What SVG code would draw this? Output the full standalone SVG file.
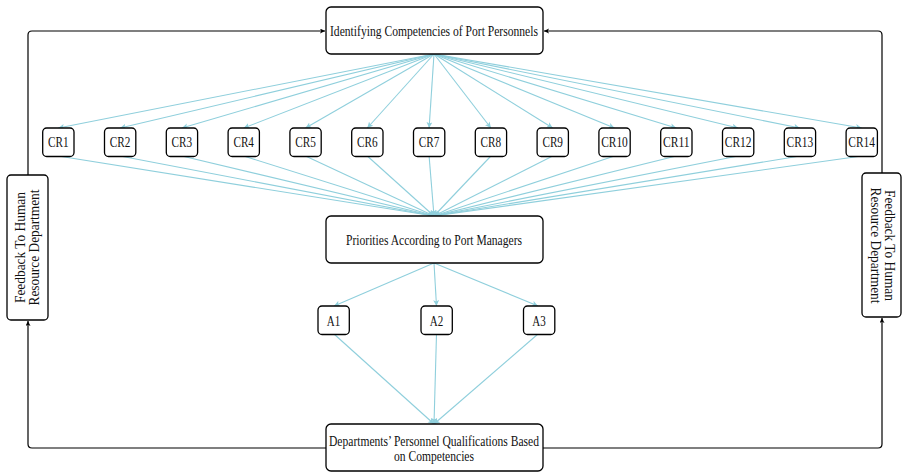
<svg xmlns="http://www.w3.org/2000/svg" width="902" height="473" viewBox="0 0 902 473">
<defs>
<marker id="ab" markerUnits="userSpaceOnUse" markerWidth="8" markerHeight="8" refX="6" refY="3" orient="auto">
<path d="M0,0 L6,3 L0,6 L1.5,3 z" fill="#8fcfdc"/>
</marker>
<marker id="ak" markerUnits="userSpaceOnUse" markerWidth="8" markerHeight="8" refX="5" refY="2.5" orient="auto">
<path d="M0,0 L5,2.5 L0,5 L1.2,2.5 z" fill="#000"/>
</marker>
<style>
.box{fill:#fff;stroke:#000;stroke-width:1.3}
.t{font-family:"Liberation Serif","Times New Roman",serif;font-size:14px;fill:#111;text-anchor:middle}
.bl{fill:none;stroke:#8fcfdc;stroke-width:1.1;marker-end:url(#ab)}
.bk{fill:none;stroke:#000;stroke-width:1.2;marker-end:url(#ak)}
</style>
</defs>
<g id="connectors">
<path class="bk" d="M28,175 V35 Q28,31 32,31 H325"/>
<path class="bk" d="M326,448 H32 Q28,448 28,444 V321"/>
<path class="bk" d="M882,173 V35 Q882,31 878,31 H544"/>
<path class="bk" d="M543,448 H878 Q882,448 882,444 V318"/>
<path class="bl" d="M434,54 L58.3,128"/>
<path class="bl" d="M434,54 L120.1,128"/>
<path class="bl" d="M434,54 L181.9,128"/>
<path class="bl" d="M434,54 L243.7,128"/>
<path class="bl" d="M434,54 L305.5,128"/>
<path class="bl" d="M434,54 L367.3,128"/>
<path class="bl" d="M434,54 L429.1,128"/>
<path class="bl" d="M434,54 L490.9,128"/>
<path class="bl" d="M434,54 L552.7,128"/>
<path class="bl" d="M434,54 L614.5,128"/>
<path class="bl" d="M434,54 L676.3,128"/>
<path class="bl" d="M434,54 L738.1,128"/>
<path class="bl" d="M434,54 L799.9,128"/>
<path class="bl" d="M434,54 L861.7,128"/>
<path class="bl" d="M58.3,156 L434,216"/>
<path class="bl" d="M120.1,156 L434,216"/>
<path class="bl" d="M181.9,156 L434,216"/>
<path class="bl" d="M243.7,156 L434,216"/>
<path class="bl" d="M305.5,156 L434,216"/>
<path class="bl" d="M367.3,156 L434,216"/>
<path class="bl" d="M429.1,156 L434,216"/>
<path class="bl" d="M490.9,156 L434,216"/>
<path class="bl" d="M552.7,156 L434,216"/>
<path class="bl" d="M614.5,156 L434,216"/>
<path class="bl" d="M676.3,156 L434,216"/>
<path class="bl" d="M738.1,156 L434,216"/>
<path class="bl" d="M799.9,156 L434,216"/>
<path class="bl" d="M861.7,156 L434,216"/>
<path class="bl" d="M434,263 L334,306"/>
<path class="bl" d="M434,263 L436.5,306"/>
<path class="bl" d="M434,263 L538,306"/>
<path class="bl" d="M334,334 L434,424"/>
<path class="bl" d="M436.5,334 L434,424"/>
<path class="bl" d="M538,334 L434,424"/>
</g>
<g id="identifying">
<rect class="box" x="326" y="7" width="217" height="47" rx="5"/>
<text class="t" x="434" y="35.5" textLength="208" lengthAdjust="spacingAndGlyphs">Identifying Competencies of Port Personnels</text>
</g>
<g id="priorities">
<rect class="box" x="326" y="216" width="217" height="47" rx="5"/>
<text class="t" x="434" y="244.5" textLength="176" lengthAdjust="spacingAndGlyphs">Priorities According to Port Managers</text>
</g>
<g id="qualifications">
<rect class="box" x="326" y="424" width="217" height="47" rx="5"/>
<text class="t" x="434" y="445.5" textLength="210" lengthAdjust="spacingAndGlyphs">Departments’ Personnel Qualifications Based</text>
<text class="t" x="434" y="460.5" textLength="80" lengthAdjust="spacingAndGlyphs">on Competencies</text>
</g>
<g id="feedback-left">
<rect class="box" x="7" y="175" width="41" height="145" rx="4"/>
<text class="t" transform="translate(25.4,247.5) rotate(-90)" textLength="111" lengthAdjust="spacingAndGlyphs">Feedback To Human</text>
<text class="t" transform="translate(39,247.5) rotate(-90)" textLength="116" lengthAdjust="spacingAndGlyphs">Resource Department</text>
</g>
<g id="feedback-right">
<rect class="box" x="862" y="173" width="39" height="144" rx="4"/>
<text class="t" transform="translate(885.3,245.5) rotate(90)" textLength="111" lengthAdjust="spacingAndGlyphs">Feedback To Human</text>
<text class="t" transform="translate(870.8,245.5) rotate(90)" textLength="116" lengthAdjust="spacingAndGlyphs">Resource Department</text>
</g>
<g id="cr1"><rect class="box" x="42.7" y="128" width="31.3" height="28.5" rx="4"/><text class="t" x="58.3" y="146.5" textLength="20.6" lengthAdjust="spacingAndGlyphs">CR1</text></g>
<g id="cr2"><rect class="box" x="104.5" y="128" width="31.3" height="28.5" rx="4"/><text class="t" x="120.1" y="146.5" textLength="20.6" lengthAdjust="spacingAndGlyphs">CR2</text></g>
<g id="cr3"><rect class="box" x="166.3" y="128" width="31.3" height="28.5" rx="4"/><text class="t" x="181.9" y="146.5" textLength="20.6" lengthAdjust="spacingAndGlyphs">CR3</text></g>
<g id="cr4"><rect class="box" x="228.1" y="128" width="31.3" height="28.5" rx="4"/><text class="t" x="243.7" y="146.5" textLength="20.6" lengthAdjust="spacingAndGlyphs">CR4</text></g>
<g id="cr5"><rect class="box" x="289.9" y="128" width="31.3" height="28.5" rx="4"/><text class="t" x="305.5" y="146.5" textLength="20.6" lengthAdjust="spacingAndGlyphs">CR5</text></g>
<g id="cr6"><rect class="box" x="351.7" y="128" width="31.3" height="28.5" rx="4"/><text class="t" x="367.3" y="146.5" textLength="20.6" lengthAdjust="spacingAndGlyphs">CR6</text></g>
<g id="cr7"><rect class="box" x="413.5" y="128" width="31.3" height="28.5" rx="4"/><text class="t" x="429.1" y="146.5" textLength="20.6" lengthAdjust="spacingAndGlyphs">CR7</text></g>
<g id="cr8"><rect class="box" x="475.3" y="128" width="31.3" height="28.5" rx="4"/><text class="t" x="490.9" y="146.5" textLength="20.6" lengthAdjust="spacingAndGlyphs">CR8</text></g>
<g id="cr9"><rect class="box" x="537.1" y="128" width="31.3" height="28.5" rx="4"/><text class="t" x="552.7" y="146.5" textLength="20.6" lengthAdjust="spacingAndGlyphs">CR9</text></g>
<g id="cr10"><rect class="box" x="598.9" y="128" width="31.3" height="28.5" rx="4"/><text class="t" x="614.5" y="146.5" textLength="26.7" lengthAdjust="spacingAndGlyphs">CR10</text></g>
<g id="cr11"><rect class="box" x="660.7" y="128" width="31.3" height="28.5" rx="4"/><text class="t" x="676.3" y="146.5" textLength="26.7" lengthAdjust="spacingAndGlyphs">CR11</text></g>
<g id="cr12"><rect class="box" x="722.5" y="128" width="31.3" height="28.5" rx="4"/><text class="t" x="738.1" y="146.5" textLength="26.7" lengthAdjust="spacingAndGlyphs">CR12</text></g>
<g id="cr13"><rect class="box" x="784.3" y="128" width="31.3" height="28.5" rx="4"/><text class="t" x="799.9" y="146.5" textLength="26.7" lengthAdjust="spacingAndGlyphs">CR13</text></g>
<g id="cr14"><rect class="box" x="846.1" y="128" width="31.3" height="28.5" rx="4"/><text class="t" x="861.7" y="146.5" textLength="26.7" lengthAdjust="spacingAndGlyphs">CR14</text></g>
<g id="a1"><rect class="box" x="318" y="306" width="31.3" height="28.5" rx="4"/><text class="t" x="333.6" y="326" textLength="13.5" lengthAdjust="spacingAndGlyphs">A1</text></g>
<g id="a2"><rect class="box" x="421" y="306" width="31.3" height="28.5" rx="4"/><text class="t" x="436.6" y="326" textLength="13.5" lengthAdjust="spacingAndGlyphs">A2</text></g>
<g id="a3"><rect class="box" x="523.5" y="306" width="31.3" height="28.5" rx="4"/><text class="t" x="539.1" y="326" textLength="13.5" lengthAdjust="spacingAndGlyphs">A3</text></g>
</svg>
